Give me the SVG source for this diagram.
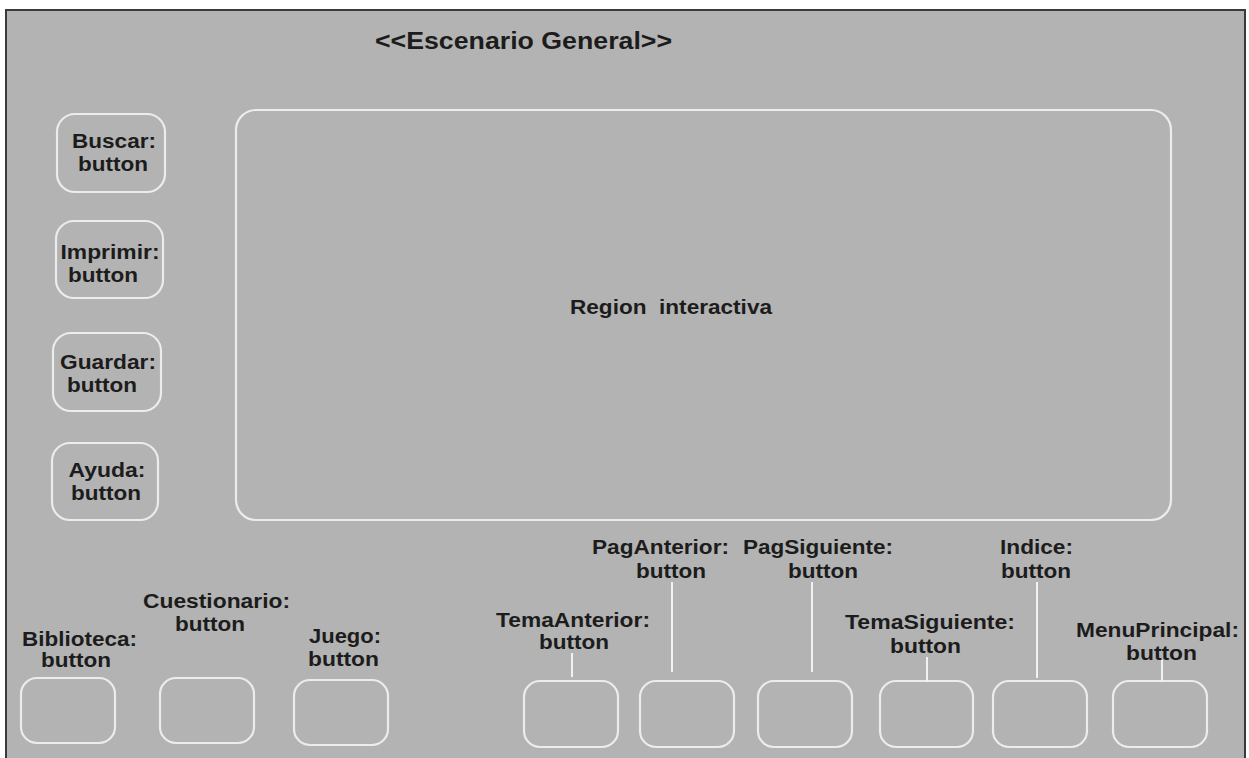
<svg xmlns="http://www.w3.org/2000/svg" width="1249" height="758" viewBox="0 0 1249 758">
  <style>
    .panel { fill: #b3b3b3; stroke: #3a3a3a; stroke-width: 2; }
    .box { fill: none; stroke: #ececec; stroke-width: 2.2; }
    .link { stroke: #f2f2f2; stroke-width: 2; fill: none; }
    text { font-family: "Liberation Sans", Arial, sans-serif; font-weight: bold; fill: #1c1c1c; text-anchor: middle; }
    .lbl { font-size: 20px; }
    .title { font-size: 23px; }
    .region { font-size: 21px; }
  </style>
  <rect x="0" y="0" width="1249" height="758" fill="#ffffff"/>
  <!-- stage frame -->
  <rect class="panel" x="6" y="10" width="1239" height="760"/>
  <text class="title" x="523.5" y="49" textLength="297" lengthAdjust="spacingAndGlyphs">&lt;&lt;Escenario General&gt;&gt;</text>

  <!-- interactive area -->
  <g id="region-interactiva">
    <rect class="box" x="236" y="110" width="935" height="410" rx="20"/>
    <text class="region" x="671" y="314" textLength="202" lengthAdjust="spacingAndGlyphs" xml:space="preserve">Region  interactiva</text>
  </g>

  <!-- side buttons -->
  <g id="buscar">
    <rect class="box" x="57" y="114" width="108" height="78" rx="18"/>
    <text class="lbl" x="114" y="148" textLength="84" lengthAdjust="spacingAndGlyphs">Buscar:</text>
    <text class="lbl" x="113" y="171" textLength="70" lengthAdjust="spacingAndGlyphs">button</text>
  </g>
  <g id="imprimir">
    <rect class="box" x="56" y="221" width="107" height="77" rx="18"/>
    <text class="lbl" x="110" y="259" textLength="99" lengthAdjust="spacingAndGlyphs">Imprimir:</text>
    <text class="lbl" x="103" y="282" textLength="70" lengthAdjust="spacingAndGlyphs">button</text>
  </g>
  <g id="guardar">
    <rect class="box" x="53" y="333" width="108" height="78" rx="18"/>
    <text class="lbl" x="108" y="369" textLength="96" lengthAdjust="spacingAndGlyphs">Guardar:</text>
    <text class="lbl" x="102" y="392" textLength="70" lengthAdjust="spacingAndGlyphs">button</text>
  </g>
  <g id="ayuda">
    <rect class="box" x="52" y="443" width="106" height="77" rx="18"/>
    <text class="lbl" x="107" y="477" textLength="77" lengthAdjust="spacingAndGlyphs">Ayuda:</text>
    <text class="lbl" x="106" y="500" textLength="70" lengthAdjust="spacingAndGlyphs">button</text>
  </g>

  <!-- bottom buttons -->
  <g id="biblioteca">
    <rect class="box" x="21" y="678" width="94" height="65" rx="16"/>
    <text class="lbl" x="79.5" y="646" textLength="115" lengthAdjust="spacingAndGlyphs">Biblioteca:</text>
    <text class="lbl" x="76" y="667" textLength="70" lengthAdjust="spacingAndGlyphs">button</text>
  </g>
  <g id="cuestionario">
    <rect class="box" x="160" y="678" width="94" height="65" rx="16"/>
    <text class="lbl" x="216.5" y="608" textLength="147" lengthAdjust="spacingAndGlyphs">Cuestionario:</text>
    <text class="lbl" x="210" y="631" textLength="70" lengthAdjust="spacingAndGlyphs">button</text>
  </g>
  <g id="juego">
    <rect class="box" x="294" y="680" width="94" height="65" rx="16"/>
    <text class="lbl" x="345" y="643" textLength="72" lengthAdjust="spacingAndGlyphs">Juego:</text>
    <text class="lbl" x="343.5" y="666" textLength="71" lengthAdjust="spacingAndGlyphs">button</text>
  </g>
  <g id="tema-anterior">
    <rect class="box" x="524" y="681" width="94" height="66" rx="16"/>
    <text class="lbl" x="573" y="627" textLength="154" lengthAdjust="spacingAndGlyphs">TemaAnterior:</text>
    <text class="lbl" x="574" y="649" textLength="70" lengthAdjust="spacingAndGlyphs">button</text>
  </g>
  <g id="pag-anterior">
    <rect class="box" x="640" y="681" width="94" height="66" rx="16"/>
    <text class="lbl" x="660.5" y="554" textLength="137" lengthAdjust="spacingAndGlyphs">PagAnterior:</text>
    <text class="lbl" x="671" y="578" textLength="70" lengthAdjust="spacingAndGlyphs">button</text>
  </g>
  <g id="pag-siguiente">
    <rect class="box" x="758" y="681" width="94" height="66" rx="16"/>
    <text class="lbl" x="818" y="554" textLength="150" lengthAdjust="spacingAndGlyphs">PagSiguiente:</text>
    <text class="lbl" x="823" y="578" textLength="70" lengthAdjust="spacingAndGlyphs">button</text>
  </g>
  <g id="tema-siguiente">
    <rect class="box" x="880" y="681" width="93" height="66" rx="16"/>
    <text class="lbl" x="930" y="629" textLength="170" lengthAdjust="spacingAndGlyphs">TemaSiguiente:</text>
    <text class="lbl" x="925.5" y="653" textLength="71" lengthAdjust="spacingAndGlyphs">button</text>
  </g>
  <g id="indice">
    <rect class="box" x="993" y="681" width="94" height="66" rx="16"/>
    <text class="lbl" x="1036.5" y="554" textLength="73" lengthAdjust="spacingAndGlyphs">Indice:</text>
    <text class="lbl" x="1036" y="578" textLength="70" lengthAdjust="spacingAndGlyphs">button</text>
  </g>
  <g id="menu-principal">
    <rect class="box" x="1113" y="681" width="94" height="66" rx="16"/>
    <text class="lbl" x="1157.5" y="637" textLength="163" lengthAdjust="spacingAndGlyphs">MenuPrincipal:</text>
    <text class="lbl" x="1161.5" y="660" textLength="71" lengthAdjust="spacingAndGlyphs">button</text>
  </g>

  <!-- label leader lines -->
  <g id="connectors">
    <line class="link" x1="572" y1="653" x2="572" y2="677"/>
    <line class="link" x1="672" y1="582" x2="672" y2="672"/>
    <line class="link" x1="812" y1="582" x2="812" y2="672"/>
    <line class="link" x1="927" y1="657" x2="927" y2="682"/>
    <line class="link" x1="1037" y1="582" x2="1037" y2="678"/>
    <line class="link" x1="1162" y1="660" x2="1162" y2="682"/>
  </g>
</svg>
